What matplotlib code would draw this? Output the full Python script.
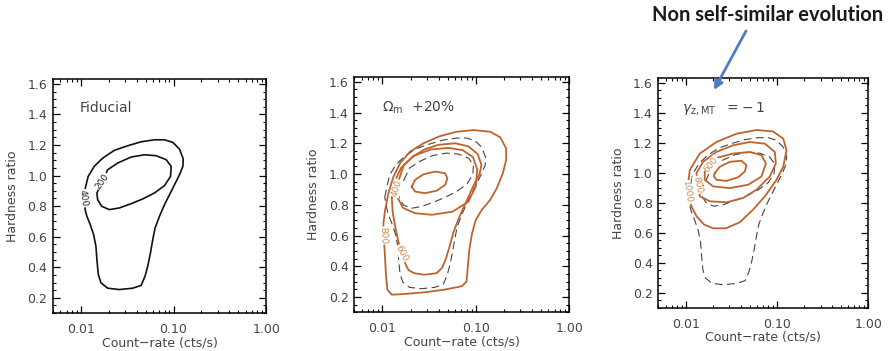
import numpy as np
import matplotlib
matplotlib.use('Agg')
import matplotlib.pyplot as plt
from matplotlib.ticker import FixedLocator, FixedFormatter, LogLocator, MultipleLocator, NullFormatter
from matplotlib.patches import FancyArrowPatch

# contour paths: log10(count-rate), hardness ratio
# fiducial model (panel 1, reused dashed in panels 2 and 3)
fid400_logx = [-1.975, -1.946, -1.921, -1.856, -1.765, -1.639, -1.495, -1.350, -1.206, -1.097,
               -1.007, -0.935, -0.895, -0.899, -0.935, -0.989, -1.043, -1.097, -1.152, -1.199,
               -1.224, -1.249, -1.278, -1.307, -1.350, -1.440, -1.585, -1.711, -1.783, -1.812,
               -1.827, -1.838, -1.863, -1.899, -1.935, -1.950]
fid400_hr = [0.850, 0.934, 0.995, 1.060, 1.114, 1.165, 1.195, 1.221, 1.234, 1.234,
             1.217, 1.173, 1.108, 1.060, 1.006, 0.940, 0.875, 0.810, 0.733, 0.657,
             0.581, 0.494, 0.407, 0.342, 0.281, 0.263, 0.254, 0.263, 0.298, 0.352,
             0.450, 0.538, 0.614, 0.679, 0.733, 0.766]
fid200_logx = [-1.769, -1.711, -1.603, -1.458, -1.314, -1.188, -1.079, -1.025, -1.032, -1.097,
               -1.206, -1.332, -1.458, -1.585, -1.693, -1.776, -1.819, -1.827]
fid200_hr = [0.962, 1.038, 1.082, 1.121, 1.136, 1.130, 1.104, 1.060, 0.995, 0.934,
             0.886, 0.847, 0.816, 0.788, 0.777, 0.799, 0.842, 0.886]

# Omega_m +20%
om800_logx = [-1.990, -1.989, -1.971, -1.936, -1.882, -1.811, -1.704, -1.561, -1.382, -1.204,
              -1.025, -0.846, -0.739, -0.675, -0.675, -0.711, -0.775, -0.846, -0.936, -1.000,
              -1.040, -1.070, -1.085, -1.100, -1.150, -1.346, -1.561, -1.775, -1.900, -1.946,
              -1.961, -1.971, -1.979]
om800_hr = [0.600, 0.680, 0.767, 0.875, 0.983, 1.070, 1.146, 1.200, 1.247, 1.275,
            1.286, 1.275, 1.239, 1.167, 1.091, 1.005, 0.908, 0.832, 0.767, 0.702,
            0.615, 0.507, 0.399, 0.300, 0.270, 0.247, 0.230, 0.219, 0.215, 0.247,
            0.334, 0.442, 0.529]
om600_logx = [-1.790, -1.830, -1.860, -1.890, -1.900, -1.870, -1.800, -1.680, -1.550, -1.400,
              -1.220, -1.080, -0.980, -0.940, -0.960, -1.020, -1.080, -1.140, -1.190, -1.240,
              -1.280, -1.320, -1.360, -1.420, -1.550, -1.660, -1.720, -1.750]
om600_hr = [0.485, 0.560, 0.650, 0.750, 0.850, 0.950, 1.040, 1.110, 1.160, 1.190,
            1.200, 1.180, 1.130, 1.060, 1.000, 0.930, 0.850, 0.770, 0.700, 0.620,
            0.530, 0.450, 0.390, 0.355, 0.345, 0.355, 0.375, 0.410]
om400_logx = [-1.846, -1.820, -1.770, -1.660, -1.480, -1.290, -1.140, -1.030, -0.985, -1.000,
              -1.080, -1.250, -1.470, -1.650, -1.780, -1.840]
om400_hr = [0.907, 0.970, 1.060, 1.120, 1.160, 1.170, 1.155, 1.110, 1.030, 0.920,
            0.820, 0.755, 0.735, 0.745, 0.780, 0.850]
om200_logx = [-1.686, -1.650, -1.561, -1.436, -1.329, -1.304, -1.329, -1.418, -1.543, -1.650]
om200_hr = [0.918, 0.962, 0.998, 1.016, 1.005, 0.972, 0.929, 0.892, 0.875, 0.886]

# gamma_z,MT = -1
gm1000_logx = [-1.985, -1.956, -1.846, -1.664, -1.444, -1.225, -1.042, -0.932, -0.896, -0.932,
               -1.005, -1.133, -1.261, -1.408, -1.560, -1.700, -1.800, -1.883, -1.938]
gm1000_hr = [0.870, 1.018, 1.128, 1.205, 1.260, 1.285, 1.275, 1.227, 1.150, 1.040,
             0.953, 0.843, 0.755, 0.670, 0.630, 0.630, 0.655, 0.711, 0.777]
gm800_logx = [-1.865, -1.883, -1.810, -1.664, -1.481, -1.298, -1.133, -1.024, -1.013, -1.079,
              -1.225, -1.371, -1.554, -1.737, -1.846]
gm800_hr = [0.920, 0.997, 1.073, 1.139, 1.183, 1.205, 1.194, 1.139, 1.062, 0.975,
            0.887, 0.832, 0.803, 0.810, 0.843]
gm600_logx = [-1.720, -1.645, -1.481, -1.298, -1.170, -1.122, -1.170, -1.316, -1.517, -1.700,
              -1.792, -1.792]
gm600_hr = [1.055, 1.102, 1.128, 1.139, 1.117, 1.062, 0.975, 0.920, 0.898, 0.909,
            0.953, 1.008]
gm400_logx = [-1.682, -1.627, -1.517, -1.389, -1.335, -1.353, -1.426, -1.554, -1.664, -1.693]
gm400_hr = [0.997, 1.040, 1.073, 1.080, 1.051, 1.008, 0.970, 0.946, 0.953, 0.979]

tick_vals = [0.01, 0.1, 1.0]
tick_labels = ['0.01', '0.10', '1.00']

orange = '#c0632b'
orange_txt = '#c98a55'
gray_txt = '#444444'


def closed(lx, hr):
    x = 10 ** np.append(lx, lx[0])
    y = np.append(hr, hr[0])
    return x, y


def clabel(ax, text, lx, hr, rot, color):
    ax.text(10 ** lx, hr, text, rotation=rot, color=color, fontsize=6.5,
            ha='center', va='center', rotation_mode='anchor',
            bbox=dict(boxstyle='square,pad=0.05', fc='white', ec='none'), zorder=5)


fig = plt.figure(figsize=(8.88, 3.51), dpi=100)
boxes = [[0.0597, 0.108, 0.240, 0.667],
         [0.3990, 0.110, 0.242, 0.671],
         [0.7413, 0.123, 0.2365, 0.655]]
axes = [fig.add_axes(b) for b in boxes]

for ax in axes:
    ax.set_xscale('log')
    ax.set_xlim(0.005, 1.0)
    ax.set_ylim(0.1, 1.632)
    ax.xaxis.set_major_locator(FixedLocator(tick_vals))
    ax.xaxis.set_major_formatter(FixedFormatter(tick_labels))
    ax.xaxis.set_minor_locator(LogLocator(base=10, subs=np.arange(2, 10)))
    ax.xaxis.set_minor_formatter(NullFormatter())
    ax.yaxis.set_major_locator(MultipleLocator(0.2))
    ax.yaxis.set_minor_locator(MultipleLocator(0.05))
    ax.yaxis.set_major_formatter(plt.FormatStrFormatter('%.1f'))
    ax.tick_params(which='both', direction='in', top=True, right=True, color='black')
    ax.tick_params(which='major', length=5, width=0.9, labelsize=9, labelcolor=gray_txt)
    ax.tick_params(which='minor', length=2.5, width=0.8)
    ax.tick_params(axis='x', which='major', pad=7)
    ax.tick_params(axis='y', which='major', pad=4)
    for s in ax.spines.values():
        s.set_linewidth(1.1)
    ax.set_xlabel('Count\u2212rate (cts/s)', fontsize=9, color=gray_txt)
    ax.set_ylabel('Hardness ratio', fontsize=9, color=gray_txt)
    ax.xaxis.set_label_coords(0.5, -0.1)
    ax.yaxis.set_label_coords(-0.16, 0.5)

# panel 1: fiducial
ax = axes[0]
for lx, hr in [(fid400_logx, fid400_hr), (fid200_logx, fid200_hr)]:
    ax.plot(*closed(lx, hr), color='#111111', lw=1.2)
clabel(ax, '400', fid400_logx[0], fid400_hr[0], -82, '#222222')
clabel(ax, '200', fid200_logx[0], fid200_hr[0], 55, '#222222')
ax.text(0.0098, 1.44, 'Fiducial', fontsize=10, color=gray_txt, va='center')

# panel 2: Omega_m +20%
ax = axes[1]
for lx, hr in [(fid400_logx, fid400_hr), (fid200_logx, fid200_hr)]:
    ax.plot(*closed(lx, hr), color='#444444', lw=0.8, dashes=(7, 4))
for lx, hr in [(om800_logx, om800_hr), (om600_logx, om600_hr),
               (om400_logx, om400_hr), (om200_logx, om200_hr)]:
    ax.plot(*closed(lx, hr), color=orange, lw=1.3)
clabel(ax, '800', om800_logx[0], om800_hr[0], -88, orange_txt)
clabel(ax, '600', om600_logx[0], om600_hr[0], -62, orange_txt)
clabel(ax, '400', om400_logx[0], om400_hr[0], 72, orange_txt)
ax.text(0.0098, 1.43, r'$\Omega_{\rm m}$  +20%', fontsize=10, color=gray_txt, va='center')

# panel 3: non self-similar evolution
ax = axes[2]
for lx, hr in [(fid400_logx, fid400_hr), (fid200_logx, fid200_hr)]:
    ax.plot(*closed(lx, hr), color='#444444', lw=0.8, dashes=(7, 4))
for lx, hr in [(gm1000_logx, gm1000_hr), (gm800_logx, gm800_hr),
               (gm600_logx, gm600_hr), (gm400_logx, gm400_hr)]:
    ax.plot(*closed(lx, hr), color=orange, lw=1.3)
clabel(ax, '1000', gm1000_logx[0], gm1000_hr[0], -82, orange_txt)
clabel(ax, '800', gm800_logx[0], gm800_hr[0], -78, orange_txt)
clabel(ax, '600', gm600_logx[0], gm600_hr[0], 50, orange_txt)
ax.text(0.0092, 1.425, r'$\gamma_{\rm z,MT}$  $=\!-1$', fontsize=10, color=gray_txt, va='center')

fig.text(0.994, 0.958, 'Non self-similar evolution', fontsize=14.5, fontweight='bold',
         family=['Lato', 'DejaVu Sans'], color='#1a1a1a', ha='right', va='center')
fig.add_artist(FancyArrowPatch((746 / 888, 1 - 31 / 351), (714 / 888, 1 - 90 / 351),
                               transform=fig.transFigure, arrowstyle='-|>',
                               mutation_scale=13, lw=2.0, color='#4f7cc4',
                               shrinkA=0, shrinkB=0))

fig.savefig('out.png', dpi=100)
